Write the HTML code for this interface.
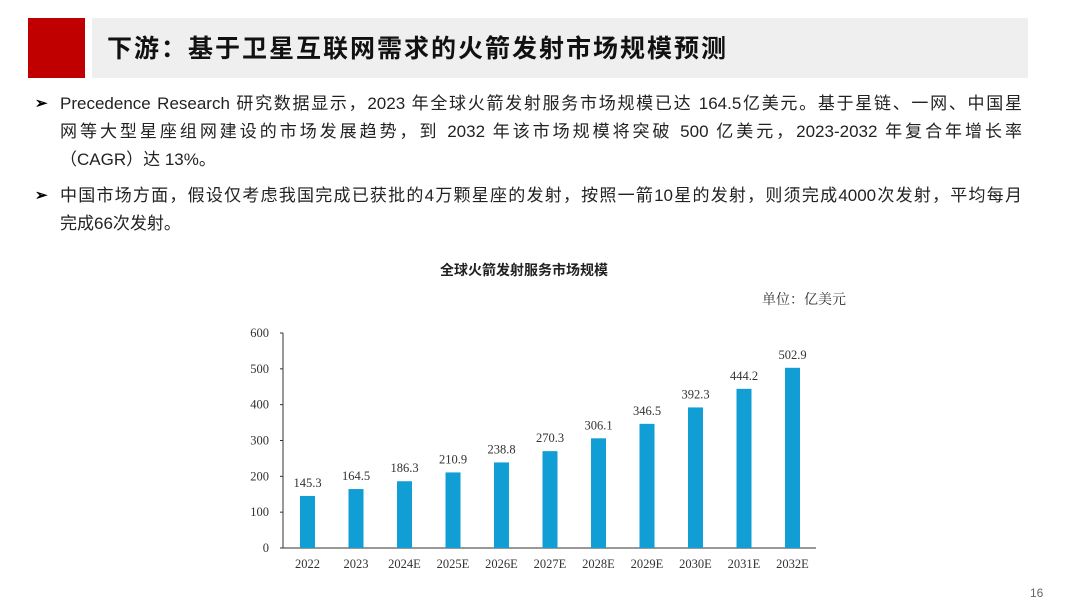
<!DOCTYPE html>
<html><head><meta charset="utf-8"><style>
body{margin:0;width:1080px;height:608px;background:#fff;position:relative;overflow:hidden;font-family:"Liberation Sans","Noto Sans CJK SC",sans-serif;}
.abs{position:absolute}
.bl{position:absolute;left:60px;font-size:17px;color:#222;line-height:28px;width:962px}
.bl .ar{position:absolute;left:-25px;top:0;font-size:15px;color:#000;font-weight:bold}
.j{display:block;white-space:nowrap;text-align:justify;text-align-last:justify;width:962px}
.n{display:block;white-space:nowrap}
</style></head><body>
<div class="abs" style="left:28px;top:18px;width:57px;height:60px;background:#c00000"></div>
<div class="abs" style="left:92px;top:18px;width:936px;height:60px;background:#efefef"></div>
<div class="abs" style="left:107px;top:29px;font-size:25px;letter-spacing:2px;font-weight:bold;color:#111">下游：基于卫星互联网需求的火箭发射市场规模预测</div>
<div class="bl" style="top:90px"><span class="ar">➢</span><span class="j">Precedence Research 研究数据显示，2023 年全球火箭发射服务市场规模已达 164.5亿美元。基于星链、一网、中国星</span><span class="j">网等大型星座组网建设的市场发展趋势，到 2032 年该市场规模将突破 500 亿美元，2023-2032 年复合年增长率</span><span class="n">（CAGR）达 13%。</span></div>
<div class="bl" style="top:182px"><span class="ar">➢</span><span class="j">中国市场方面，假设仅考虑我国完成已获批的4万颗星座的发射，按照一箭10星的发射，则须完成4000次发射，平均每月</span><span class="n">完成66次发射。</span></div>
<div class="abs" style="left:440px;top:260px;font-size:14px;font-weight:bold;color:#222">全球火箭发射服务市场规模</div>
<div class="abs" style="left:762px;top:289px;font-size:14px;color:#333;font-family:'Liberation Serif','Noto Serif CJK SC',serif">单位：亿美元</div>
<div class="abs" style="left:1030px;top:586px;font-size:12px;color:#666">16</div>
<svg id="chart" class="abs" style="left:0;top:0" width="1080" height="608"></svg>
<script>
const categories=["2022","2023","2024E","2025E","2026E","2027E","2028E","2029E","2030E","2031E","2032E"];
const values=[145.3,164.5,186.3,210.9,238.8,270.3,306.1,346.5,392.3,444.2,502.9];
const labels=["145.3","164.5","186.3","210.9","238.8","270.3","306.1","346.5","392.3","444.2","502.9"];
const yTicks=[0,100,200,300,400,500,600];
const svg=document.getElementById('chart');const NS='http://www.w3.org/2000/svg';
const x0=283,y0=548,yTop=333,step=48.5,first=307.5,bw=15;
const y=v=>y0-(v/600)*(y0-yTop);
const xc=i=>first+i*step;
function mk(t,a,txt){const e=document.createElementNS(NS,t);for(const k in a)e.setAttribute(k,a[k]);if(txt!=null)e.textContent=txt;svg.appendChild(e);return e;}
const ff='Liberation Serif, serif';
let ax=mk('line',{x1:x0,y1:yTop,x2:x0,y2:y0,stroke:'#333','stroke-width':1});


let bx=mk('line',{x1:x0,y1:y0,x2:816,y2:y0,stroke:'#333','stroke-width':1});


yTicks.forEach(t=>{
 mk('line',{x1:x0-3,y1:y(t),x2:x0,y2:y(t),stroke:'#333'});
 let e=mk('text',{x:269,y:y(t)+4,'text-anchor':'end','font-size':12.5,'font-family':ff,fill:'#333'},t);
 
 
});
categories.forEach((c,i)=>{
 let r=mk('rect',{x:xc(i)-bw/2,y:y(values[i]),width:bw,height:y0-y(values[i]),fill:'#109ed4'});
 
 
 let l=mk('text',{x:xc(i),y:y(values[i])-9,'text-anchor':'middle','font-size':12.5,'font-family':ff,fill:'#333'},labels[i]);
 
 
 let t=mk('text',{x:xc(i),y:568,'text-anchor':'middle','font-size':12.5,'font-family':ff,fill:'#333'},c);
 
 
});
</script>
</body></html>
